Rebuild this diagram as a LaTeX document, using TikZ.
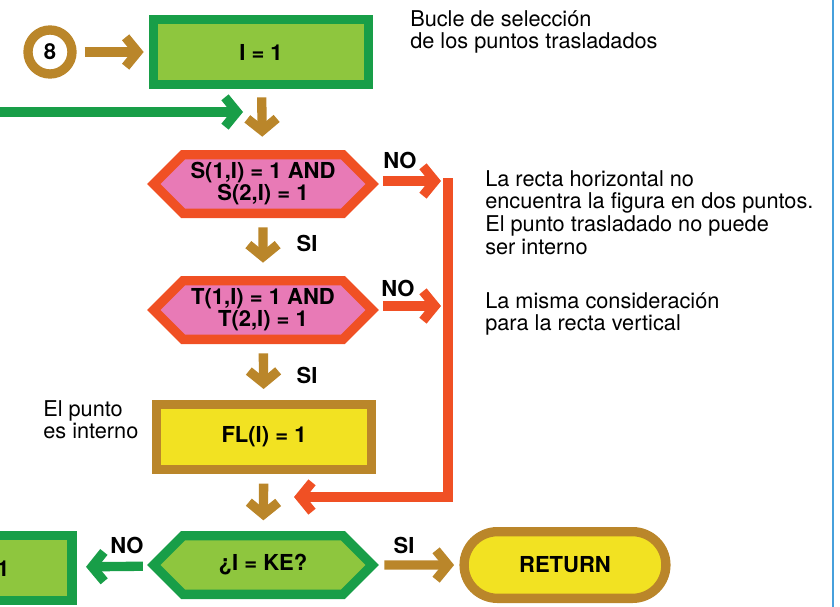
\documentclass[tikz,border=0pt]{standalone}
\usepackage{fontspec}
\setmainfont{TeX Gyre Heros}
\usetikzlibrary{arrows.meta,shapes.symbols,shapes.misc,positioning}

\definecolor{greendark}{RGB}{24,158,72}
\definecolor{greenlight}{RGB}{142,198,62}
\definecolor{brownc}{RGB}{186,134,42}
\definecolor{redc}{RGB}{240,80,36}
\definecolor{pinkc}{RGB}{232,122,182}
\definecolor{yellowc}{RGB}{242,226,34}
\definecolor{bluec}{RGB}{70,160,220}

\begin{document}
\begin{tikzpicture}[
    x=0.75pt, y=-0.75pt,
    every node/.style={font=\fontsize{16.3}{17}\selectfont},
    process/.style={draw, rectangle, line width=7pt, minimum width=161pt, minimum height=49pt, align=center, font=\fontsize{16.5}{17}\selectfont\bfseries},
    decision/.style={draw=redc, fill=pinkc, signal, signal to=east and west, signal pointer angle=90, line width=7pt, minimum width=164pt, minimum height=44pt, align=center, inner sep=1pt, font=\fontsize{16.5}{16.5}\selectfont\bfseries},
    terminal/.style={draw=brownc, fill=yellowc, rounded rectangle, line width=7pt, minimum width=158pt, minimum height=50pt, font=\fontsize{16.5}{17}\selectfont\bfseries},
    connector/.style={draw=brownc, fill=white, circle, line width=7pt, minimum size=33pt, inner sep=0pt, font=\fontsize{16.5}{17}\selectfont\bfseries},
    note/.style={align=left, anchor=north west, inner sep=0pt},
    answer/.style={font=\fontsize{16.5}{17}\selectfont\bfseries},
    flow/.style={line width=7pt, -{Straight Barb[length=9pt, width=22pt]}},
    brownflow/.style={flow, draw=brownc},
    greenflow/.style={flow, draw=greendark},
    redflow/.style={flow, draw=redc}
]
\clip (0,0) rectangle (840,607);

% main column
\node[connector] (c8) at (50,52) {8};
\node[process, draw=greendark, fill=greenlight] (init) at (261,52) {I = 1};
\node[decision] (testS) at (263,184) {S(1,I) = 1 AND\\S(2,I) = 1};
\node[decision] (testT) at (263,310) {T(1,I) = 1 AND\\T(2,I) = 1};
\node[process, draw=brownc, fill=yellowc] (inside) at (264,437) {FL(I) = 1};
\node[decision, draw=greendark, fill=greenlight] (testKE) at (263,565) {¿I = KE?};
\node[terminal] (ret) at (565,565) {RETURN};
\node[process, draw=greendark, fill=greenlight, minimum width=150pt] (incr) at (-28,568) {I = I + 1};

% notes
\node[note] (noteloop) at (410,10) {Bucle de selección\\de los puntos trasladados};
\node[note] (noteS) at (485,170) {La recta horizontal no\\encuentra la figura en dos puntos.\\El punto trasladado no puede\\ser interno};
\node[note] (noteT) at (485,292) {La misma consideración\\para la recta vertical};
\node[note] (noteFL) at (43,400) {El punto\\es interno};

% answers
\node[answer] at (400,160) {NO};
\node[answer] at (398,288) {NO};
\node[answer] at (307,243) {SI};
\node[answer] at (307,375) {SI};
\node[answer] at (127,545) {NO};
\node[answer] at (404,545) {SI};

% free ends
\coordinate (loopin) at (0,112);
\coordinate (looptip) at (243,112);
\coordinate (noS) at (441,181);
\coordinate (noT) at (441,306);
\coordinate (bartop) at (448,178);
\coordinate (barbot) at (448,497);
\coordinate (bartip) at (294,497);

% connectors
\draw[brownflow, shorten <=6pt, shorten >=4pt] (c8) -- (init);
\draw[brownflow, shorten <=6pt, shorten >=10pt] (init) -- (testS);
\draw[brownflow, shorten <=7pt, shorten >=10pt] (testS) -- (testT);
\draw[brownflow, shorten <=7pt, shorten >=8pt] (testT) -- (inside);
\draw[brownflow, shorten <=7pt, shorten >=8pt] (inside) -- (testKE);
\draw[brownflow, shorten <=4pt, shorten >=4pt] (testKE) -- (ret);
\draw[greenflow, shorten <=4pt, shorten >=7pt] (testKE) -- (incr);
\draw[greenflow] (loopin) -- (looptip);
\draw[redflow, shorten <=3pt] (testS.east |- noS) -- (noS);
\draw[redflow, shorten <=3pt] (testT.east |- noT) -- (noT);
\draw[redc, line width=7pt, line join=miter, -{Straight Barb[length=9pt, width=22pt]}] (bartop) -- (barbot) -- (bartip);

% page edge
\draw[bluec, line width=1pt] (833,0) -- (833,607);
\end{tikzpicture}
\end{document}
